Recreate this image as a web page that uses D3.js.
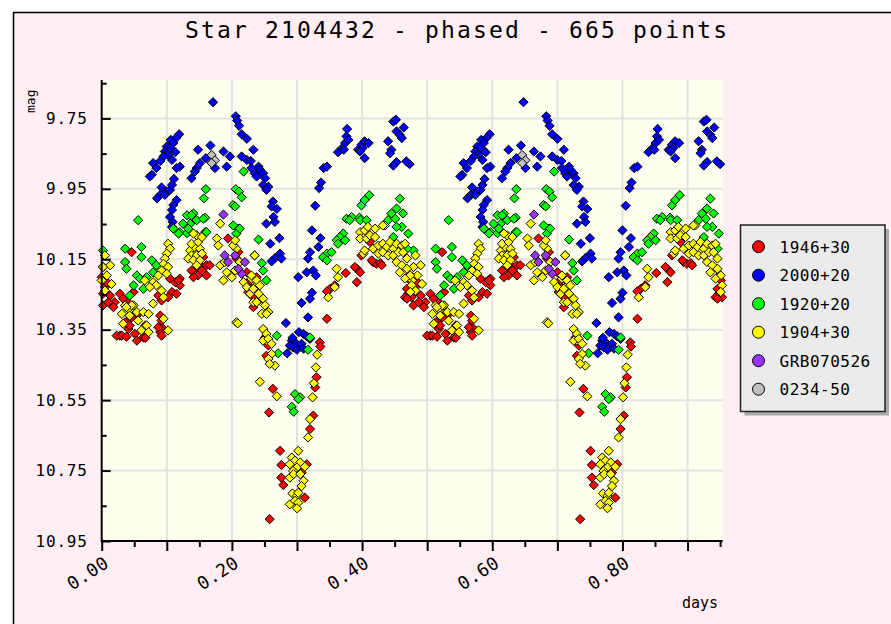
<!DOCTYPE html>
<html><head><meta charset="utf-8">
<script src="https://cdn.jsdelivr.net/npm/d3@7"></script>
<style>html,body{margin:0;padding:0;background:#ffffff;} svg{display:block;}</style>
</head><body><svg id="c" width="891" height="624"></svg>
<script>
// ---------- data ----------
const titleText = "Star 2104432 - phased - 665 points";
const period = 0.477;          // phase period (days); data shown over two cycles
const xDomain = [0, 0.954];
const yDomain = [9.641, 10.95];
const xLabelTicks = [0, 0.2, 0.4, 0.6, 0.8];
const xMajorTicks = [0, 0.1, 0.2, 0.3, 0.4, 0.5, 0.6, 0.7, 0.8, 0.9];
const xMinorTicks = [0.05, 0.15, 0.25, 0.35, 0.45, 0.55, 0.65, 0.75, 0.85, 0.95];
const yLabelTicks = [9.75, 9.95, 10.15, 10.35, 10.55, 10.75, 10.95];
const yMinorTicks = [9.65, 9.85, 10.05, 10.25, 10.45, 10.65, 10.85];
const seriesNames = ["1946+30", "2000+20", "1920+20", "1904+30", "GRB070526", "0234-50"];
const seriesColors = ["#ff0000", "#0000ff", "#00ff00", "#ffff00", "#9933ff", "#c0c0c0"];

// [phase, mag]
const s1946 = [
[0.002,10.172],[0.000,10.201],[0.005,10.215],[0.013,10.253],[0.002,10.281],[0.020,10.272],[0.028,10.248],[0.018,10.286],[0.046,10.130],[0.049,10.243],[0.038,10.267],[0.054,10.310],[0.043,10.319],[0.036,10.329],[0.041,10.348],[0.051,10.362],[0.054,10.381],[0.028,10.367],[0.023,10.367],[0.064,10.372],[0.069,10.357],[0.090,10.310],[0.092,10.343],[0.090,10.357],[0.105,10.205],[0.108,10.243],[0.115,10.248],[0.120,10.224],[0.120,10.205],[0.113,10.215],[0.102,10.258],[0.092,10.267],[0.087,10.253],
[0.146,10.177],[0.156,10.144],[0.151,10.167],[0.143,10.187],[0.148,10.196],[0.161,10.167],[0.161,10.196],[0.141,10.201],[0.154,10.182],[0.138,10.182],[0.166,10.167],
[0.194,10.091],[0.210,10.130],[0.207,10.148],[0.225,10.243],[0.228,10.229],[0.238,10.201],[0.223,10.187],[0.228,10.210],[0.233,10.258],[0.233,10.286],[0.241,10.267],
[0.346,10.319],[0.351,10.234],[0.346,10.241],[0.375,10.189],[0.392,10.177],[0.397,10.187],[0.392,10.215],[0.417,10.158],[0.422,10.163],[0.428,10.161],[0.469,10.201],[0.474,10.210],[0.471,10.248],[0.466,10.258],
[0.118,10.210],[0.092,10.324],[0.051,10.305],[0.033,10.262],[0.010,10.272],[0.002,10.248],[0.005,10.229],[0.008,10.215],
[0.389,10.172],[0.399,10.139],[0.415,10.153],[0.430,10.167],[0.358,10.224],[0.412,10.101],[0.469,10.234],[0.476,10.258],[0.469,10.262],[0.251,10.372],[0.335,10.386],
[0.256,10.395],[0.253,10.424],[0.263,10.518],[0.257,10.585],[0.274,10.694],[0.276,10.734],[0.276,10.770],[0.279,10.791],[0.312,10.827],[0.315,10.732],[0.307,10.756],[0.258,10.888],[0.336,10.398],[0.330,10.485],[0.328,10.514],[0.325,10.594],[0.320,10.632],
[0.031,10.367],[0.038,10.370],[0.067,10.373],[0.092,10.367],[0.087,10.343],[0.067,10.338],[0.043,10.338],[0.046,10.315]
];
const s2000 = [
[0.171,9.704],[0.206,9.744],[0.208,9.756],[0.211,9.771],[0.215,9.795],[0.223,9.808],
[0.119,9.795],[0.114,9.806],[0.106,9.811],[0.110,9.820],[0.100,9.830],[0.105,9.834],[0.097,9.844],[0.113,9.846],[0.102,9.853],[0.095,9.858],[0.108,9.868],[0.090,9.871],[0.079,9.877],[0.084,9.891],[0.120,9.887],[0.115,9.891],[0.077,9.910],[0.074,9.915],[0.111,9.922],
[0.092,9.946],[0.100,9.958],[0.105,9.953],[0.090,9.967],[0.097,9.967],[0.085,9.977],[0.108,9.939],[0.115,9.982],[0.110,9.996],[0.108,10.010],[0.105,10.030],[0.109,10.044],[0.108,10.058],
[0.148,9.839],[0.167,9.827],[0.160,9.863],[0.151,9.877],[0.146,9.891],[0.143,9.901],[0.138,9.920],[0.174,9.891],[0.192,9.887],[0.187,9.844],[0.197,9.858],[0.215,9.858],[0.223,9.868],[0.233,9.839],[0.229,9.871],[0.230,9.891],[0.237,9.909],[0.241,9.887],
[0.243,9.896],[0.235,9.906],[0.248,9.906],[0.251,9.920],[0.238,9.915],[0.248,9.939],[0.256,9.944],[0.253,9.953],[0.263,9.986],[0.269,10.007],[0.261,10.000],
[0.264,10.030],[0.253,10.049],[0.266,10.044],[0.259,10.106],[0.273,10.090],[0.274,10.134],[0.266,10.147],[0.261,10.156],[0.276,10.148],
[0.283,10.331],[0.303,10.357],[0.310,10.362],[0.315,10.369],[0.320,10.376],[0.292,10.381],[0.297,10.386],[0.289,10.395],[0.294,10.400],[0.302,10.395],[0.307,10.390],[0.300,10.407],[0.285,10.417],[0.310,10.404],[0.293,10.373],
[0.307,10.274],[0.317,10.315],[0.320,10.262],[0.323,10.245],
[0.302,10.201],[0.315,10.187],[0.325,10.182],[0.329,10.196],[0.317,10.148],[0.320,10.130],[0.333,10.115],[0.336,10.090],[0.323,10.068],
[0.328,9.998],[0.334,9.948],[0.337,9.932],[0.341,9.891],[0.346,9.887],
[0.363,9.846],[0.369,9.835],[0.374,9.820],[0.376,9.801],[0.377,9.780],[0.379,9.811],[0.372,9.839],
[0.394,9.839],[0.399,9.825],[0.404,9.815],[0.410,9.820],[0.401,9.834],[0.404,9.863],[0.397,9.844],
[0.448,9.759],[0.452,9.754],[0.453,9.787],[0.464,9.776],[0.458,9.797],[0.461,9.806],[0.440,9.815],[0.445,9.839],[0.443,9.849],[0.453,9.874],[0.448,9.884],[0.473,9.880],[0.468,9.872]
];
const s1920 = [
[0.218,9.901],[0.160,9.951],[0.157,9.977],[0.206,9.951],[0.211,9.958],[0.215,9.974],[0.202,9.996],[0.205,10.000],
[0.056,10.039],[0.131,10.025],[0.141,10.020],[0.146,10.039],[0.159,10.032],[0.136,10.049],[0.125,10.049],[0.120,10.073],[0.131,10.076],[0.110,10.063],[0.118,10.077],[0.159,10.073],[0.210,10.063],[0.207,10.077],
[0.241,10.094],[0.235,10.139],[0.246,10.161],[0.248,10.182],[0.253,10.210],
[0.376,10.035],[0.384,10.030],[0.371,10.077],[0.366,10.087],[0.361,10.096],[0.363,10.106],[0.346,10.134],[0.340,10.144],[0.346,10.153],[0.353,10.130],
[0.399,9.997],[0.404,9.982],[0.411,9.968],[0.396,10.032],[0.458,9.978],[0.453,10.006],[0.445,10.020],[0.440,10.039],[0.451,10.035],[0.463,10.020],[0.461,10.058],[0.453,10.058],[0.471,10.077],[0.448,10.087],
[0.002,10.125],[0.036,10.120],[0.061,10.115],[0.061,10.144],[0.036,10.158],[0.038,10.177],[0.077,10.153],[0.084,10.167],[0.054,10.196],[0.059,10.205],[0.069,10.201],[0.079,10.187],[0.043,10.253],[0.049,10.224],[0.064,10.234],
[0.269,10.367],[0.271,10.417],[0.320,10.372],[0.317,10.407],[0.297,10.533],[0.305,10.542],[0.302,10.547],[0.292,10.569],[0.295,10.583],
[0.381,10.039],[0.397,10.039],[0.407,10.039],[0.469,10.120],[0.374,10.096],[0.138,10.025],[0.156,10.035],[0.133,10.063],[0.161,10.073],[0.212,10.063],[0.202,10.054]
];
const s1904 = [
[0.182,10.049],[0.177,10.091],[0.179,10.111],[0.102,10.106],[0.105,10.120],[0.100,10.134],[0.097,10.148],[0.095,10.163],[0.102,10.172],[0.092,10.182],[0.100,10.191],[0.087,10.196],[0.079,10.215],[0.084,10.224],[0.074,10.229],[0.092,10.239],[0.095,10.258],[0.079,10.276],[0.066,10.210],
[0.013,10.167],[0.008,10.196],[0.015,10.220],[0.005,10.239],[0.036,10.281],[0.031,10.305],[0.041,10.291],[0.049,10.281],[0.054,10.300],[0.064,10.300],[0.072,10.305],[0.056,10.324],[0.069,10.338],[0.061,10.352],[0.033,10.333],[0.102,10.352],[0.095,10.319],[0.043,10.310],[0.072,10.357],[0.046,10.281],[0.038,10.286],[0.005,10.139],[0.002,10.172],[0.000,10.210],
[0.136,10.125],[0.143,10.115],[0.151,10.120],[0.138,10.139],[0.146,10.139],[0.154,10.134],[0.133,10.148],[0.141,10.153],[0.151,10.153],[0.146,10.167],[0.138,10.106],[0.148,10.101],[0.146,10.082],[0.141,10.077],[0.154,10.087],
[0.182,10.167],[0.189,10.158],[0.192,10.187],[0.200,10.201],[0.187,10.210],[0.205,10.182],[0.212,10.158],[0.218,10.215],[0.223,10.229],[0.230,10.205],[0.235,10.139],[0.238,10.224],[0.228,10.248],[0.233,10.272],[0.207,10.120],[0.202,10.111],[0.205,10.096],[0.207,10.329],
[0.230,10.196],[0.238,10.210],[0.243,10.224],[0.233,10.234],[0.241,10.248],[0.248,10.262],[0.238,10.272],[0.251,10.281],[0.246,10.305],[0.256,10.300],[0.248,10.348],[0.253,10.381],
[0.361,10.177],[0.363,10.201],[0.358,10.229],[0.348,10.258],
[0.397,10.073],[0.404,10.068],[0.409,10.058],[0.420,10.063],[0.397,10.091],[0.407,10.091],[0.402,10.134],[0.417,10.120],[0.425,10.111],[0.432,10.106],[0.438,10.115],[0.443,10.101],[0.448,10.120],[0.453,10.106],[0.461,10.111],[0.466,10.106],[0.425,10.134],[0.432,10.130],[0.440,10.139],[0.448,10.139],[0.456,10.130],[0.463,10.130],[0.469,10.148],[0.453,10.158],[0.461,10.167],[0.469,10.177],[0.458,10.187],[0.474,10.196],[0.466,10.205],[0.476,10.224],[0.474,10.243],[0.435,10.054],[0.412,10.082],[0.404,10.125],[0.432,10.054],[0.420,10.087],
[0.253,10.362],[0.248,10.381],[0.256,10.376],[0.261,10.390],[0.261,10.419],[0.256,10.433],[0.266,10.452],[0.258,10.447],[0.243,10.498],[0.269,10.539],[0.209,10.332],
[0.331,10.421],[0.329,10.457],[0.326,10.502],[0.324,10.542],[0.320,10.604],[0.317,10.656],[0.253,10.305],
[0.302,10.694],[0.292,10.713],[0.297,10.722],[0.289,10.732],[0.305,10.727],[0.300,10.741],[0.312,10.739],[0.294,10.751],[0.289,10.770],[0.295,10.760],[0.310,10.779],[0.307,10.794],[0.293,10.815],[0.300,10.822],[0.302,10.813],[0.289,10.846],[0.297,10.836],[0.302,10.841],[0.300,10.857],[0.305,10.760]
];
const sGRB = [[0.187,10.023],[0.189,10.139],[0.194,10.158],[0.205,10.139],[0.220,10.158],[0.215,10.191],[0.210,10.177]];
const s0234 = [[0.169,9.854],[0.174,9.869],[0.169,9.877]];
const seriesData = [s1946, s2000, s1920, s1904, sGRB, s0234];

// ---------- layout ----------
const W = 891, H = 624;
const plot = {left: 101.7, right: 722.7, top: 80, bottom: 541};
const mono = "'DejaVu Sans Mono', 'Liberation Mono', monospace";

const svg = d3.select("#c");
svg.append("rect").attr("width", W).attr("height", H).attr("fill", "#ffffff");
svg.append("rect").attr("x", 13.5).attr("y", 12.5).attr("width", W).attr("height", H)
  .attr("fill", "#ffeef3").attr("stroke", "#000").attr("stroke-width", 1.5);

const x = d3.scaleLinear().domain(xDomain).range([plot.left, plot.right]);
const y = d3.scaleLinear().domain([yDomain[1], yDomain[0]]).range([plot.bottom, plot.top]);

svg.append("rect").attr("x", plot.left).attr("y", plot.top)
  .attr("width", plot.right - plot.left).attr("height", plot.bottom - plot.top)
  .attr("fill", "#ffffef");

// grid
const grid = svg.append("g").attr("stroke", "#e2e2e2").attr("stroke-width", 2);
grid.selectAll("line.v").data(xMajorTicks.slice(1)).enter().append("line")
  .attr("x1", d => x(d)).attr("x2", d => x(d)).attr("y1", plot.top).attr("y2", plot.bottom);
grid.selectAll("line.h").data(yLabelTicks.slice(0, -1)).enter().append("line")
  .attr("x1", plot.left).attr("x2", plot.right).attr("y1", d => y(d)).attr("y2", d => y(d));

// points (two cycles)
const diamond = "M0,-4.6L4.6,0L0,4.6L-4.6,0Z";
const pts = svg.append("g");
seriesData.forEach((arr, i) => {
  const expanded = [];
  arr.forEach(p => { expanded.push([p[0], p[1]]); expanded.push([p[0] + period, p[1]]); });
  pts.append("g").selectAll("path").data(expanded).enter().append("path")
    .attr("d", diamond)
    .attr("transform", d => `translate(${x(d[0])},${y(d[1])})`)
    .attr("fill", seriesColors[i]).attr("stroke", "#000").attr("stroke-width", 1);
});

// x axis
const fmt = d3.format(".2f");
const isLabel = d => xLabelTicks.some(t => Math.abs(t - d) < 1e-9);
const xAxisG = svg.append("g").attr("transform", `translate(0,${plot.bottom})`)
  .call(d3.axisBottom(x).tickValues(xMajorTicks).tickSize(10).tickSizeOuter(0)
    .tickFormat(d => isLabel(d) ? fmt(d) : ""));
xAxisG.select(".domain").attr("stroke-width", 2).attr("d", `M${plot.left},0H${plot.right}`);
xAxisG.selectAll(".tick line").attr("stroke-width", 2);
xAxisG.selectAll(".tick text")
  .attr("y", null).attr("dy", null)
  .attr("text-anchor", "end")
  .attr("transform", "translate(8,25) rotate(-33)")
  .attr("font-family", mono).attr("font-size", 18).attr("letter-spacing", 0.5).attr("fill", "#000");
const xMinorG = svg.append("g").attr("transform", `translate(0,${plot.bottom})`)
  .call(d3.axisBottom(x).tickValues(xMinorTicks).tickSize(6).tickFormat(""));
xMinorG.select(".domain").remove();
xMinorG.selectAll(".tick line").attr("stroke-width", 2);

// y axis
const yAxisG = svg.append("g").attr("transform", `translate(${plot.left},0)`)
  .call(d3.axisLeft(y).tickValues(yLabelTicks).tickSize(-9).tickSizeOuter(0).tickPadding(14)
    .tickFormat(d3.format(".2f")));
yAxisG.select(".domain").attr("stroke-width", 2).attr("d", `M0,${plot.top}V${plot.bottom + 1}`);
yAxisG.selectAll(".tick line").attr("stroke-width", 2);
yAxisG.selectAll(".tick text").attr("font-family", mono).attr("font-size", 16)
  .attr("letter-spacing", 0.8).attr("fill", "#000");
const yMinorG = svg.append("g").attr("transform", `translate(${plot.left},0)`)
  .call(d3.axisLeft(y).tickValues(yMinorTicks).tickSize(-5).tickFormat(""));
yMinorG.select(".domain").remove();
yMinorG.selectAll(".tick line").attr("stroke-width", 2);

// titles
svg.append("text").attr("x", 456).attr("y", 38).attr("text-anchor", "middle")
  .attr("font-family", mono).attr("font-size", 23)
  .attr("textLength", 542).attr("lengthAdjust", "spacing").text(titleText);
svg.append("text").attr("x", 718).attr("y", 608).attr("text-anchor", "end")
  .attr("font-family", mono).attr("font-size", 15).text("days");
svg.append("text").attr("transform", "translate(35,113) rotate(-90)")
  .attr("font-family", mono).attr("font-size", 13).text("mag");

// legend
const lg = {x: 740.5, y: 225, w: 144.5, h: 186.5, row: 28.5};
svg.append("rect").attr("x", lg.x + 4).attr("y", lg.y + 4).attr("width", lg.w).attr("height", lg.h).attr("fill", "#aaaaaa");
svg.append("rect").attr("x", lg.x).attr("y", lg.y).attr("width", lg.w).attr("height", lg.h)
  .attr("fill", "#ebebeb").attr("stroke", "#222").attr("stroke-width", 1.5);
const items = svg.append("g").selectAll("g").data(seriesNames).enter().append("g")
  .attr("transform", (d, i) => `translate(${lg.x + 18},${lg.y + 21.7 + i * lg.row})`);
items.append("circle").attr("r", 6).attr("fill", (d, i) => seriesColors[i]).attr("stroke", "#000").attr("stroke-width", 1);
items.append("text").attr("x", 21).attr("y", 6).attr("font-family", mono).attr("font-size", 16)
  .attr("letter-spacing", 0.5).text(d => d);
</script>
</body></html>
